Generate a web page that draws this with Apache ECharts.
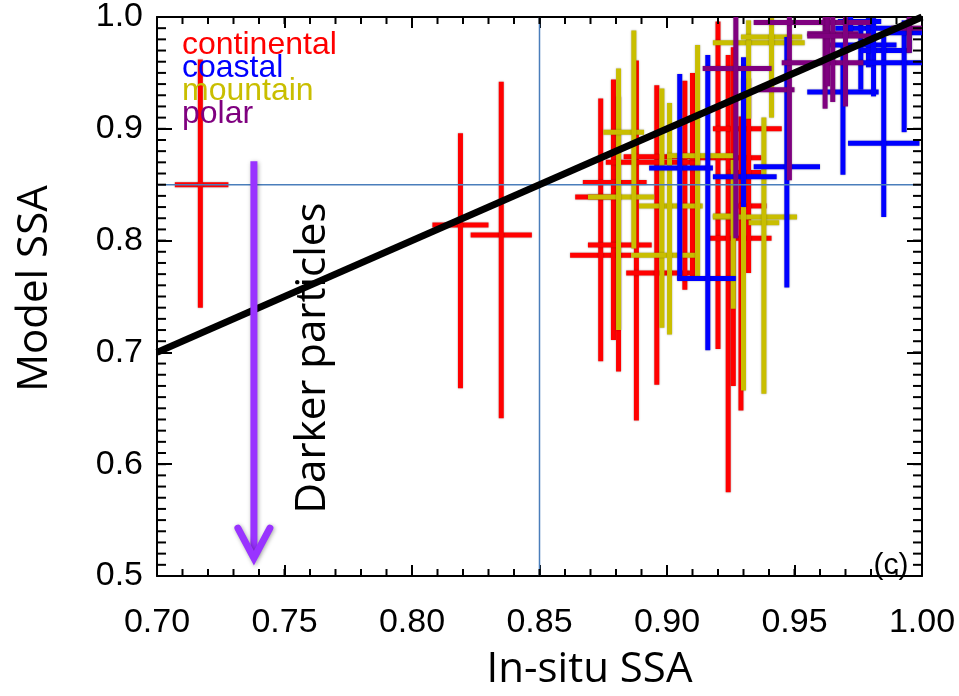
<!DOCTYPE html>
<html>
<head>
<meta charset="utf-8">
<script src="https://cdn.jsdelivr.net/npm/echarts@6/dist/echarts.min.js"></script>
<style>
  html, body { margin: 0; padding: 0; background: #ffffff; }
  #chart { width: 959px; height: 696px; }
</style>
</head>
<body>
<div id="chart"></div>
<script>
// Each row: [in-situ SSA, model SSA, in-situ low, in-situ high, model low, model high]
const continental = [
  [0.717, 0.850, 0.707, 0.728, 0.740, 0.962],
  [0.819, 0.814, 0.808, 0.830, 0.668, 0.896],
  [0.835, 0.805, 0.823, 0.847, 0.641, 0.942],
  [0.874, 0.787, 0.862, 0.886, 0.692, 0.927],
  [0.879, 0.839, 0.864, 0.882, 0.711, 0.944],
  [0.881, 0.852, 0.867, 0.892, 0.683, 0.929],
  [0.888, 0.796, 0.869, 0.894, 0.639, 0.961],
  [0.896, 0.771, 0.884, 0.909, 0.671, 0.939],
  [0.907, 0.875, 0.883, 0.913, 0.756, 0.943],
  [0.910, 0.870, 0.876, 0.913, 0.767, 0.950],
  [0.920, 0.874, 0.909, 0.937, 0.703, 0.996],
  [0.924, 0.802, 0.916, 0.941, 0.575, 0.966],
  [0.926, 0.900, 0.918, 0.945, 0.670, 0.973],
  [0.929, 0.861, 0.924, 0.937, 0.648, 0.911],
  [0.932, 0.831, 0.928, 0.939, 0.771, 0.945]
];
const mountain = [
  [0.881, 0.839, 0.869, 0.895, 0.720, 0.954],
  [0.887, 0.897, 0.875, 0.891, 0.793, 0.988],
  [0.898, 0.831, 0.889, 0.914, 0.722, 0.936],
  [0.901, 0.787, 0.886, 0.912, 0.716, 0.923],
  [0.912, 0.876, 0.900, 0.926, 0.768, 0.975],
  [0.930, 0.821, 0.918, 0.951, 0.666, 0.945],
  [0.932, 0.977, 0.918, 0.954, 0.909, 0.997],
  [0.938, 0.816, 0.932, 0.944, 0.663, 0.910],
  [0.941, 0.982, 0.929, 0.953, 0.910, 0.999],
  [0.926, 0.822, 0.918, 0.928, 0.739, 0.872]
];
const coastal = [
  [0.905, 0.865, 0.893, 0.918, 0.765, 0.949],
  [0.916, 0.766, 0.904, 0.927, 0.702, 0.966],
  [0.930, 0.857, 0.918, 0.943, 0.830, 0.964],
  [0.947, 0.866, 0.934, 0.960, 0.758, 0.982],
  [0.969, 0.933, 0.955, 0.983, 0.859, 0.976],
  [0.976, 0.975, 0.964, 0.990, 0.935, 0.996],
  [0.979, 0.990, 0.966, 0.990, 0.955, 0.999],
  [0.981, 0.970, 0.976, 0.995, 0.929, 0.999],
  [0.985, 0.887, 0.971, 0.999, 0.821, 0.982],
  [0.993, 0.959, 0.975, 1.000, 0.897, 0.997],
  [0.995, 0.986, 0.985, 1.000, 0.968, 0.999],
  [0.972, 0.996, 0.967, 0.984, 0.985, 1.000]
];
const polar = [
  [0.927, 0.954, 0.914, 0.941, 0.802, 1.000],
  [0.948, 0.935, 0.936, 0.950, 0.854, 1.000],
  [0.962, 0.959, 0.945, 0.977, 0.918, 1.000],
  [0.963, 0.995, 0.934, 0.980, 0.938, 1.000],
  [0.965, 0.985, 0.955, 0.975, 0.924, 1.000],
  [0.970, 0.983, 0.955, 0.980, 0.920, 1.000],
  [0.995, 0.990, 0.988, 1.000, 0.968, 1.000]
];

// Group names and colours
const groupNames = ['continental', 'coastal', 'mountain', 'polar'];
const groupColors = ['#ff0000', '#0000ff', '#c9be00', '#7f007f'];

// Axis ranges, major and minor tick steps
const xRange = [0.70, 1.00];
const xStep = 0.05;
const xMinorStep = 0.01;
const yRange = [0.5, 1.0];
const yStep = 0.1;
const yMinorStep = 0.01;

// One-to-one line and the 0.85 reference lines
const oneToOne = [[0.70, 0.70], [1.00, 1.00]];
const refValue = 0.85;

// "Darker particles" arrow: start and tip
const arrowFrom = [0.738, 0.871];
const arrowTo = [0.738, 0.516];

// Minor tick positions along each axis (every 0.01)
function tickValues(range, step) {
  const out = [];
  const n = Math.round((range[1] - range[0]) / step);
  for (let i = 0; i <= n; i++) out.push(+(range[0] + i * step).toFixed(4));
  return out;
}
const xMinorTicks = tickValues(xRange, xMinorStep);
const yMinorTicks = tickValues(yRange, yMinorStep);

const chart = echarts.init(document.getElementById('chart'), null, { renderer: 'canvas' });

function crossRenderer(color) {
  return function (params, api) {
    const x = api.value(0), y = api.value(1);
    const l = api.coord([api.value(2), y]);
    const r = api.coord([api.value(3), y]);
    const b = api.coord([x, api.value(4)]);
    const t = api.coord([x, api.value(5)]);
    const style = {
      stroke: color, lineWidth: 5, lineCap: 'butt',
      shadowBlur: 2, shadowColor: 'rgba(0,0,0,0.35)'
    };
    return {
      type: 'group',
      children: [
        { type: 'line', shape: { x1: l[0], y1: l[1], x2: r[0], y2: r[1] }, style: style },
        { type: 'line', shape: { x1: b[0], y1: b[1], x2: t[0], y2: t[1] }, style: style }
      ]
    };
  };
}

function crossSeries(name, rows, color, z) {
  return {
    name: name,
    type: 'custom',
    clip: true,
    z: z,
    silent: true,
    encode: { x: [0, 2, 3], y: [1, 4, 5] },
    renderItem: crossRenderer(color),
    data: rows
  };
}

const tickFont = { fontFamily: 'Liberation Sans', fontSize: 34, color: '#000' };
const titleFont = { fontFamily: 'Open Sans', fontSize: 42, color: '#000' };
const frameLine = { show: true, lineStyle: { color: '#000', width: 2 } };

const option = {
  animation: false,
  backgroundColor: '#ffffff',
  grid: { left: 157, right: 37, top: 12, bottom: 112, containLabel: false },
  xAxis: [
    {
      type: 'value', position: 'bottom', min: xRange[0], max: xRange[1], interval: xStep,
      name: 'In-situ SSA', nameLocation: 'middle', nameGap: 73,
      nameTextStyle: Object.assign({ padding: [0, 0, 0, 100] }, titleFont),
      axisLine: frameLine,
      axisTick: { show: true, inside: true, length: 11, lineStyle: { color: '#000', width: 2 } },
      splitLine: { show: false },
      axisLabel: Object.assign({ margin: 30, formatter: v => v.toFixed(2) }, tickFont)
    },
    {
      type: 'value', position: 'top', min: xRange[0], max: xRange[1], interval: xStep,
      axisLine: frameLine,
      axisTick: { show: true, inside: true, length: 11, lineStyle: { color: '#000', width: 2 } },
      axisLabel: { show: false },
      splitLine: { show: false }
    }
  ],
  yAxis: [
    {
      type: 'value', position: 'left', min: yRange[0], max: yRange[1], interval: yStep,
      name: 'Model SSA', nameLocation: 'middle', nameGap: 101, nameRotate: 90,
      nameTextStyle: Object.assign({ padding: [0, 0, 0, 16] }, titleFont),
      axisLine: frameLine,
      axisTick: { show: true, inside: true, length: 15, lineStyle: { color: '#000', width: 2 } },
      splitLine: { show: false },
      axisLabel: Object.assign({ margin: 14, formatter: v => v.toFixed(1) }, tickFont)
    },
    {
      type: 'value', position: 'right', min: yRange[0], max: yRange[1], interval: yStep,
      axisLine: frameLine,
      axisTick: { show: true, inside: true, length: 15, lineStyle: { color: '#000', width: 2 } },
      axisLabel: { show: false },
      splitLine: { show: false }
    }
  ],
  series: [
    crossSeries(groupNames[0], continental, groupColors[0], 2),
    crossSeries(groupNames[2], mountain, groupColors[2], 2),
    crossSeries(groupNames[1], coastal, groupColors[1], 2),
    crossSeries(groupNames[3], polar, groupColors[3], 2),
    {
      name: 'ref-x', type: 'line', z: 3, silent: true, symbol: 'none',
      lineStyle: { color: '#4a7ebb', width: 1.5 },
      data: [[refValue, yRange[0]], [refValue, yRange[1]]]
    },
    {
      name: 'ref-y', type: 'line', z: 3, silent: true, symbol: 'none',
      lineStyle: { color: '#4a7ebb', width: 1.5 },
      data: [[xRange[0], refValue], [xRange[1], refValue]]
    },
    {
      name: '1:1', type: 'line', z: 4, silent: true, symbol: 'none',
      lineStyle: { color: '#000', width: 7, cap: 'butt' },
      data: oneToOne
    },
    {
      name: 'arrow', type: 'custom', z: 5, silent: true,
      renderItem: function (params, api) {
        const p0 = api.coord([api.value(0), api.value(1)]);
        const p1 = api.coord([api.value(2), api.value(3)]);
        const style = {
          stroke: '#9933ff', lineWidth: 7, fill: null,
          shadowBlur: 4, shadowOffsetX: 1, shadowOffsetY: 1, shadowColor: 'rgba(0,0,0,0.35)'
        };
        return {
          type: 'group',
          children: [
            { type: 'line', shape: { x1: p0[0], y1: p0[1], x2: p1[0], y2: p1[1] - 3 },
              style: Object.assign({ lineCap: 'butt' }, style) },
            { type: 'polyline',
              shape: { points: [[p1[0] - 16, p1[1] - 30], [p1[0], p1[1]], [p1[0] + 16, p1[1] - 30]] },
              style: Object.assign({ lineCap: 'round', lineJoin: 'miter' }, style) }
          ]
        };
      },
      data: [[arrowFrom[0], arrowFrom[1], arrowTo[0], arrowTo[1]]]
    }
  ],
  graphic: [
    { type: 'text', x: 182, y: 45, z: 10, silent: true,
      style: { text: groupNames[0], fill: groupColors[0], font: '32px "Liberation Sans"', verticalAlign: 'middle' } },
    { type: 'text', x: 182, y: 68, z: 10, silent: true,
      style: { text: groupNames[1], fill: groupColors[1], font: '32px "Liberation Sans"', verticalAlign: 'middle' } },
    { type: 'text', x: 182, y: 91, z: 10, silent: true,
      style: { text: groupNames[2], fill: groupColors[2], font: '32px "Liberation Sans"', verticalAlign: 'middle' } },
    { type: 'text', x: 182, y: 114, z: 10, silent: true,
      style: { text: groupNames[3], fill: groupColors[3], font: '32px "Liberation Sans"', verticalAlign: 'middle' } },
    { type: 'text', x: 313, y: 358, rotation: Math.PI / 2, z: 10, silent: true,
      style: { text: 'Darker particles', fill: '#000', font: '42px "Open Sans"', align: 'center', verticalAlign: 'middle' } },
    { type: 'text', x: 891, y: 566, z: 10, silent: true,
      style: { text: '(c)', fill: '#000', font: '30px "Liberation Sans"', align: 'center', verticalAlign: 'middle' } }
  ]
};

chart.setOption(option);

// Short inward 0.01 ticks on all four sides, placed through the axis scales
const minorTickElements = [];
function addTick(p, dx, dy) {
  minorTickElements.push({
    type: 'line', z: 20, silent: true,
    shape: { x1: p[0], y1: p[1], x2: p[0] + dx, y2: p[1] + dy },
    style: { stroke: '#000', lineWidth: 2 }
  });
}
xMinorTicks.forEach(v => {
  addTick(chart.convertToPixel({ gridIndex: 0 }, [v, yRange[0]]), 0, -7);
  addTick(chart.convertToPixel({ gridIndex: 0 }, [v, yRange[1]]), 0, 7);
});
yMinorTicks.forEach(v => {
  addTick(chart.convertToPixel({ gridIndex: 0 }, [xRange[0], v]), 9, 0);
  addTick(chart.convertToPixel({ gridIndex: 0 }, [xRange[1], v]), -9, 0);
});
chart.setOption({ graphic: option.graphic.concat(minorTickElements) });
</script>
</body>
</html>
